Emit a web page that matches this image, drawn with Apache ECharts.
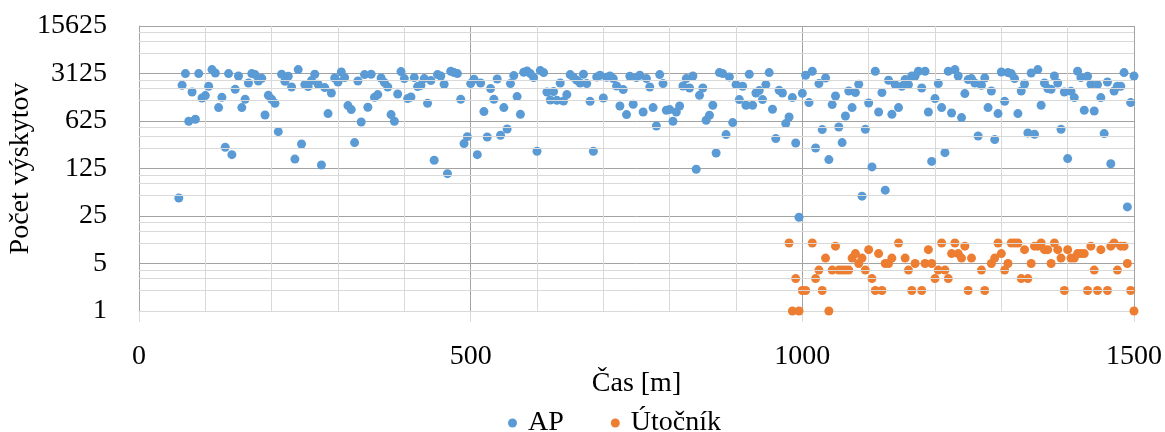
<!DOCTYPE html>
<html>
<head>
<meta charset="utf-8">
<script src="https://cdn.jsdelivr.net/npm/echarts@6/dist/echarts.min.js"></script>
<style>html,body{margin:0;padding:0;background:#fff}#c{width:1165px;height:432px}</style>
</head>
<body>
<div id="c"></div>
<script>
const apTime = [60,65,70,75,80,85,90,95,100,105,110,115,120,125,130,135,140,145,150,155,160,165,170,175,180,185,190,195,200,205,210,215,220,225,230,235,240,245,250,255,260,265,270,275,280,285,290,295,300,305,310,315,320,325,330,335,340,345,350,355,360,365,370,375,380,385,390,395,400,405,410,415,420,425,430,435,440,445,450,455,460,465,470,475,480,485,490,495,500,505,510,515,520,525,530,535,540,545,550,555,560,565,570,575,580,585,590,595,600,605,610,615,620,625,630,635,640,645,650,655,660,665,670,675,680,685,690,695,700,705,710,715,720,725,730,735,740,745,750,755,760,765,770,775,780,785,790,795,800,805,810,815,820,825,830,835,840,845,850,855,860,865,870,875,880,885,890,895,900,905,910,915,920,925,930,935,940,945,950,955,960,965,970,975,980,985,990,995,1000,1005,1010,1015,1020,1025,1030,1035,1040,1045,1050,1055,1060,1065,1070,1075,1080,1085,1090,1095,1100,1105,1110,1115,1120,1125,1130,1135,1140,1145,1150,1155,1160,1165,1170,1175,1180,1185,1190,1195,1200,1205,1210,1215,1220,1225,1230,1235,1240,1245,1250,1255,1260,1265,1270,1275,1280,1285,1290,1295,1300,1305,1310,1315,1320,1325,1330,1335,1340,1345,1350,1355,1360,1365,1370,1375,1380,1385,1390,1395,1400,1405,1410,1415,1420,1425,1430,1435,1440,1445,1450,1455,1460,1465,1470,1475,1480,1485,1490,1495,1500];
const apCount = [46,2095,3114,619,1669,662,3114,1361,1477,2025,3566,3178,984,1394,256,3114,200,1829,2871,984,1303,2265,3114,3011,2424,2656,766,1492,1303,1138,436,3042,2399,2842,1977,172,3566,287,2145,2004,2457,3042,2167,141,1938,803,1613,2683,2343,3288,2720,1053,920,301,2424,604,3011,994,3042,1394,1528,2683,2296,1977,776,619,1559,3333,2629,1334,1408,2720,2004,2095,2629,1138,2457,165,3011,2871,2167,105,3367,3222,3114,1303,291,368,2219,2567,200,2265,859,363,1873,1303,2594,385,984,476,2219,2910,1428,784,3255,3401,3114,2720,224,3447,3222,1669,1272,1692,1259,2265,1230,1528,3011,2748,2482,2265,3042,2219,1217,224,2775,2940,1361,2748,2871,2629,2046,1039,1811,776,2842,1101,2720,2940,848,2629,1977,984,527,3011,2219,898,920,619,848,1039,2046,2629,1912,2871,122,1492,1912,640,758,1064,211,3222,3114,394,2775,592,2145,1290,2025,1064,3042,1064,1613,1750,1290,2145,3222,929,344,1768,1613,572,716,1380,297,24,1597,2940,1166,3367,250,2219,467,2683,169,1089,1457,510,301,740,1727,984,1635,2167,49,471,1150,132,3367,848,1635,60,2482,784,2145,984,2025,2541,2145,2871,2871,3367,1912,3367,848,159,1334,2219,984,214,3367,820,3566,2871,701,1581,2541,2629,2265,376,2095,2683,984,1727,333,803,3288,1217,3222,3114,2629,803,1727,2189,416,3178,398,3566,1064,2265,1873,1829,2871,2265,471,1669,175,1709,1380,3367,2720,898,2842,2167,877,2145,1380,408,2343,147,1727,2025,2025,3222,34,1166,2871];
const atkTime = [980,985,990,995,1000,1005,1015,1020,1025,1030,1035,1040,1045,1050,1055,1060,1065,1070,1075,1080,1085,1090,1095,1100,1105,1110,1115,1120,1125,1130,1135,1145,1155,1160,1165,1170,1180,1185,1190,1195,1200,1205,1210,1215,1220,1225,1230,1235,1240,1245,1250,1255,1270,1275,1285,1290,1295,1300,1305,1310,1315,1320,1325,1330,1335,1340,1345,1350,1355,1360,1365,1370,1375,1380,1385,1390,1395,1400,1405,1410,1415,1420,1425,1430,1435,1440,1445,1450,1460,1465,1470,1475,1480,1485,1490,1495,1500];
const atkCount = [10,1,3,1,2,2,10,3,4,2,6,1,4,9,4,4,4,4,6,7,5,6,4,8,3,2,7,2,5,5,6,10,6,4,2,5,2,5,8,5,3,4,10,4,3,7,10,7,6,9,2,6,4,2,5,6,10,7,4,5,10,10,10,3,8,3,5,9,9,10,8,8,5,10,8,6,2,8,6,6,7,7,7,2,9,4,2,8,2,9,10,4,9,9,5,2,1];
const seriesNames = ['AP', 'Útočník'];
const yTickValues = [1, 5, 25, 125, 625, 3125, 15625];
const xTickValues = [0, 500, 1000, 1500];
const xAxisName = 'Čas [m]';
const yAxisName = 'Počet výskytov';

const FONT = 'Liberation Serif';
const zip = (a, b) => a.map((v, i) => [v, b[i]]);
// minor log gridlines at 2,3,4 x each power of 5
const minorY = [];
for (let i = 0; i < yTickValues.length - 1; i++) {
  [2, 3, 4].forEach(m => minorY.push(m * yTickValues[i]));
}

const chart = echarts.init(document.getElementById('c'), null, {renderer: 'canvas'});
chart.setOption({
  animation: false,
  backgroundColor: '#fff',
  textStyle: {fontFamily: FONT},
  grid: {left: 139, right: 31, top: 26, bottom: 121, containLabel: false, outerBoundsMode: 'none'},
  legend: {
    data: seriesNames,
    left: 503, top: 404,
    icon: 'circle', itemWidth: 9, itemHeight: 9, itemGap: 47,
    textStyle: {fontFamily: FONT, fontSize: 28, color: '#000', padding: [0, 0, 0, 6]}
  },
  xAxis: {
    type: 'value', min: xTickValues[0], max: xTickValues[xTickValues.length - 1], interval: 500,
    name: xAxisName, nameLocation: 'middle', nameGap: 59, nameMoveOverlap: false,
    nameTextStyle: {fontFamily: FONT, fontSize: 28, color: '#000'},
    axisLine: {show: true, lineStyle: {color: '#d9d9d9', width: 1}},
    axisTick: {show: true, length: 11, lineStyle: {color: '#d9d9d9'}},
    minorTick: {show: false, splitNumber: 5},
    axisLabel: {fontFamily: FONT, fontSize: 28, color: '#000', margin: 32,
      formatter: v => String(Math.round(v))},
    splitLine: {show: true, lineStyle: {color: '#a3a3a3', width: 1}},
    minorSplitLine: {show: true, lineStyle: {color: '#d9d9d9', width: 1}}
  },
  yAxis: {
    type: 'log', logBase: 5, min: 1, max: 15625,
    name: yAxisName, nameLocation: 'middle', nameGap: 104, nameRotate: 90, nameMoveOverlap: false,
    nameTextStyle: {fontFamily: FONT, fontSize: 28, color: '#000'},
    axisLine: {show: true, lineStyle: {color: '#a3a3a3', width: 1}},
    axisTick: {show: false},
    axisLabel: {fontFamily: FONT, fontSize: 28, color: '#000', margin: 32,
      formatter: v => String(Math.round(v))},
    splitLine: {show: true, showMinLine: false, lineStyle: {color: '#a3a3a3', width: 1}}
  },
  series: [
    {
      type: 'scatter', name: '_grid', data: [], silent: true, z: 1,
      markLine: {
        silent: true, symbol: ['none', 'none'], animation: false,
        label: {show: false},
        lineStyle: {color: '#d9d9d9', type: 'solid', width: 1},
        emphasis: {disabled: true},
        data: minorY.map(v => ({yAxis: v}))
      }
    },
    {
      type: 'scatter', name: seriesNames[0], data: zip(apTime, apCount),
      symbol: 'circle', symbolSize: 9, z: 3,
      itemStyle: {color: '#5B9BD5', opacity: 1}
    },
    {
      type: 'scatter', name: seriesNames[1], data: zip(atkTime, atkCount),
      symbol: 'circle', symbolSize: 9, z: 4,
      itemStyle: {color: '#ED7D31', opacity: 1}
    }
  ]
});
</script>
</body>
</html>
